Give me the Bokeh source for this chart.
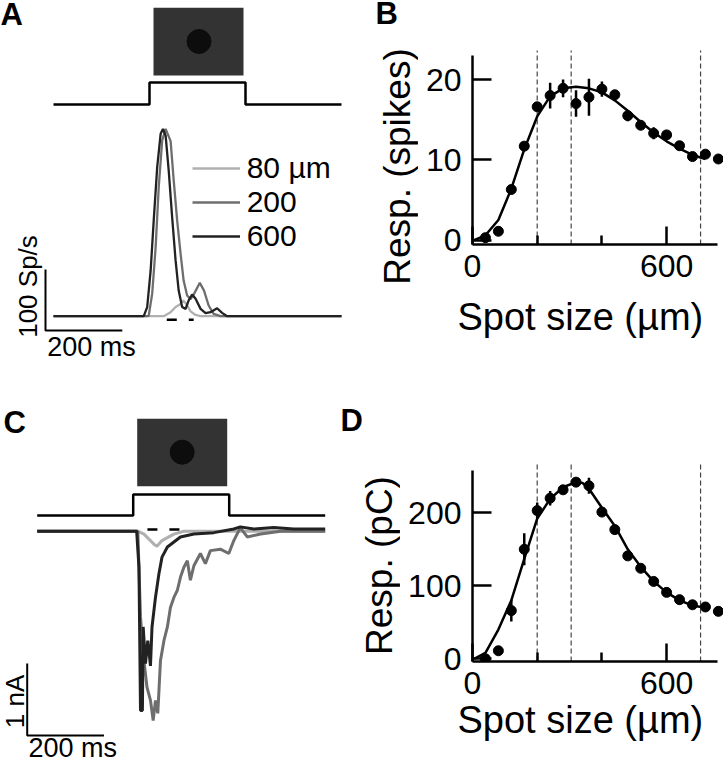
import math
from bokeh.plotting import figure
from bokeh.layouts import row, column
from bokeh.models import Label, FixedTicker, Legend, LegendItem, Title
from bokeh.embed import file_html
from bokeh.resources import INLINE

FONT = "Liberation Sans"

# ---------------- data ----------------
# stimulus timing (ms)
stim_t = [0, 250, 250, 500, 500, 750]
stim_on = [0, 0, 1, 1, 0, 0]

# Panel A: firing rate (Sp/s) vs time (ms)
a_light_t = [0, 287, 305, 318, 329, 338, 346, 357, 370, 383, 750]
a_light_r = [0, 0, 6.6, 15, 19, 25.7, 20, 8, 2, 0, 0]
a_med_t = [0, 244, 248, 257, 266, 274, 283, 292, 305, 313, 322, 331, 339, 348, 357, 366, 381, 392, 404, 417, 435, 750]
a_med_r = [0, 0, 1, 37, 113, 211, 288, 307, 287, 223, 157, 102, 58, 34, 28, 36.6, 54.7, 42, 17.5, 3.8, 0, 0]
a_dark_t = [0, 235, 244, 253, 261, 270, 279, 285, 292, 300, 309, 318, 326, 335, 344, 352, 361, 370, 383, 396, 409, 426, 439, 452, 750]
a_dark_r = [0, 0, 15, 75, 157, 244, 299, 307, 296, 239, 162, 91, 42, 15, 12, 26, 35.6, 28.5, 12, 5, 6.6, 13, 5.5, 0, 0]
a_window = [295, 365]
legend_labels = ["80 µm", "200", "600"]

# Panel C: current (nA) vs time (ms)
c_light_t = [0, 262, 278, 291, 304, 312, 325, 339, 356, 382, 750]
c_light_i = [0, 0, -0.04, -0.11, -0.18, -0.21, -0.13, -0.09, -0.04, 0, 0]
c_med_t = [0, 262, 269, 278, 286, 295, 302, 308, 314, 321, 330, 339, 347, 356, 365, 373, 382, 391, 399, 408, 425, 438, 451, 477, 499, 512, 529, 547, 582, 634, 750]
c_med_i = [0, 0, -1.19, -1.80, -2.17, -2.35, -2.63, -2.35, -2.53, -1.80, -1.52, -1.33, -1.06, -0.92, -0.82, -0.64, -0.50, -0.41, -0.68, -0.48, -0.31, -0.45, -0.27, -0.25, -0.31, -0.13, 0.05, -0.08, -0.04, 0, 0]
c_dark_t = [0, 259, 265, 269, 274, 276, 282, 288, 295, 299, 308, 317, 325, 339, 356, 373, 408, 460, 512, 529, 564, 616, 668, 750]
c_dark_i = [0, 0, -0.5, -2.49, -2.49, -1.33, -1.84, -1.52, -1.87, -1.33, -0.92, -0.59, -0.36, -0.22, -0.15, -0.08, -0.04, -0.02, 0.03, 0.06, 0.03, 0.05, 0.03, 0.03]
c_window = [287, 373]

# Panels B and D: spot size tuning
sizes = [40, 80, 120, 160, 200, 240, 280, 320, 360, 400, 440, 480, 520, 560, 600, 640, 680, 720, 760]
spikes = [0.3, 1.1, 6.3, 11.7, 16.6, 18.0, 18.9, 17.0, 17.8, 18.8, 18.1, 15.5, 14.3, 13.3, 13.1, 11.75, 10.4, 10.7, 10.1]
spikes_err = [0.2, 0.2, 0.4, 0.4, 0.3, 1.6, 1.1, 1.65, 2.3, 0.95, 0.4, 0.7, 0.4, 0.75, 0.4, 0.4, 0.4, 0.4, 0.3]
fitB_x = [5, 40, 80, 120, 160, 200, 240, 280, 320, 360, 400, 440, 480, 520, 560, 600, 640, 680, 720]
fitB_y = [0, 0.6, 2.5, 6.4, 11.3, 15.4, 17.9, 18.9, 19.1, 18.9, 18.4, 17.4, 16.1, 14.7, 13.4, 12.3, 11.4, 10.6, 10.1]
charge = [0, 11, 66, 150, 203, 220, 231.5, 242, 237, 201, 177, 141, 124, 106, 91, 81, 74, 71, 65]
charge_err = [3, 3, 15, 22, 11, 10, 4, 4, 11, 4, 3, 3, 3, 3, 3, 3, 3, 3, 3]
fitD_x = [5, 40, 80, 120, 160, 200, 240, 280, 320, 340, 360, 400, 440, 480, 520, 560, 600, 640, 680, 720]
fitD_y = [0, 8, 40, 80, 137, 192, 219, 235, 242, 241, 233, 207, 182, 150, 126, 106, 91, 80, 73, 70]
marked_sizes = [200, 305, 705]

LIGHT, MED, DARK = "#b0b0b0", "#6e6e6e", "#222222"


def blank_fig(w, h, xr, yr):
    p = figure(width=w, height=h, x_range=xr, y_range=yr, output_backend="svg",
               toolbar_location=None, x_axis_location=None, y_axis_location=None,
               min_border=0, frame_align=False)
    p.grid.visible = False
    p.outline_line_color = None
    return p


def lab(p, x, y, text, size, **kw):
    p.add_layout(Label(x=x, y=y, text=text, text_font=FONT, text_font_size=size,
                       text_color="black", **kw))


# ---------------- Panel A (also hosts B's letter and y title) ----------------
A_W, A_H = 418, 375
def ax(x): return (x - 53) / 0.384
def ay(y): return (315.7 - y) / 0.61

pa = blank_fig(A_W, A_H, (ax(0), ax(A_W)), (ay(A_H), ay(0)))
base, hgt = ay(104), ay(82) - ay(104)
pa.line(stim_t, [base + s * hgt for s in stim_on], line_width=2.5, color="black")
pa.quad(left=[ax(153)], right=[ax(243)], top=[ay(7.3)], bottom=[ay(75)],
        fill_color="#333333", line_color=None)
pa.scatter([ax(198.5)], [ay(41)], size=24, color="#0d0d0d")
rl = pa.line(a_light_t, a_light_r, line_width=2.3, color=LIGHT)
rm = pa.line(a_med_t, a_med_r, line_width=2.3, color=MED)
rd = pa.line(a_dark_t, a_dark_r, line_width=2.3, color=DARK)
pa.line(a_window, [ay(319.3)] * 2, line_width=2.5, color="black", line_dash="10 12")
sb_t, sb_r = ax(45), ay(330)
pa.line([sb_t, sb_t, sb_t + 200], [sb_r + 100, sb_r, sb_r], line_width=2, color="black")
leg = Legend(items=[LegendItem(label=legend_labels[0], renderers=[rl]),
                    LegendItem(label=legend_labels[1], renderers=[rm]),
                    LegendItem(label=legend_labels[2], renderers=[rd])],
             location=(191.7, A_H - 253.3), glyph_width=48, glyph_height=34, label_height=34,
             label_width=20, label_standoff=7, spacing=0, padding=0, margin=0,
             border_line_color=None, background_fill_alpha=0,
             label_text_font=FONT, label_text_font_size="30px", label_text_color="black")
pa.add_layout(leg)
lab(pa, ax(0), ay(31), "A", "31px", text_font_style="bold")
lab(pa, ax(27.5), ay(286), "100 Sp/s", "26px", angle=math.pi / 2,
    text_align="center", text_baseline="middle")
lab(pa, ax(46.7), ay(361), "200 ms", "27px")
lab(pa, ax(375), ay(30), "B", "31px", text_font_style="bold")
lab(pa, ax(396.5), ay(166), "Resp. (spikes)", "37px", angle=math.pi / 2,
    text_align="center", text_baseline="middle")

# ---------------- Panel C (also hosts D's letter and y title) ----------------
C_W, C_H = 400, 389
def cx(x): return (x - 36.7) / 0.384
def cy(y): return (530.7 - y) / 72.0

pc = blank_fig(C_W, C_H, (cx(0), cx(C_W)), (cy(375 + C_H), cy(375)))
base, hgt = cy(515), cy(494) - cy(515)
pc.line(stim_t, [base + s * hgt for s in stim_on], line_width=2.5, color="black")
pc.quad(left=[cx(136.7)], right=[cx(226.7)], top=[cy(418.3)], bottom=[cy(485.7)],
        fill_color="#333333", line_color=None)
pc.scatter([cx(181.7)], [cy(451.7)], size=24, color="#0d0d0d")
pc.line(c_light_t, c_light_i, line_width=3, color=LIGHT)
pc.line(c_med_t, c_med_i, line_width=3, color=MED)
pc.line(c_dark_t, c_dark_i, line_width=3, color=DARK)
pc.line(c_window, [cy(529)] * 2, line_width=2.5, color="black", line_dash="10 12")
sb_t, sb_i = cx(26.7), cy(735)
pc.line([sb_t, sb_t, sb_t + 200], [sb_i + 1, sb_i, sb_i], line_width=2, color="black")
lab(pc, cx(3), cy(439), "C", "31px", text_font_style="bold")
lab(pc, cx(14), cy(701), "1 nA", "26px", angle=math.pi / 2,
    text_align="center", text_baseline="middle")
lab(pc, cx(28), cy(762), "200 ms", "27px")
lab(pc, cx(340), cy(437), "D", "31px", text_font_style="bold")
lab(pc, cx(378.5), cy(565), "Resp. (pC)", "37px", angle=math.pi / 2,
    text_align="center", text_baseline="middle")


# ---------------- Panels B, D ----------------
PX_UM = 0.3235
X_LEFT = 472
X_END = (723 - X_LEFT) / PX_UM


def style_axes(p, yticks, ybounds):
    p.grid.visible = False
    p.outline_line_color = None
    xa, ya = p.xaxis[0], p.yaxis[0]
    xa.ticker = FixedTicker(ticks=[0, 600], minor_ticks=[200, 400])
    ya.ticker = FixedTicker(ticks=yticks)
    ya.bounds = ybounds
    xa.bounds = (0, 757)
    for a in (xa, ya):
        a.axis_line_width = 2.5
        a.major_tick_line_width = 2.5
        a.minor_tick_line_width = 2.5
        a.major_tick_out = 0
        a.minor_tick_out = 0
        a.major_label_text_font = FONT
        a.major_label_text_font_size = "32px"
        a.major_label_text_color = "black"
    xa.major_tick_in = 18
    xa.minor_tick_in = 9
    xa.major_label_standoff = 10
    ya.major_tick_in = 19
    ya.minor_tick_in = 0
    ya.major_label_standoff = 11


def tuning(p, vals, errs, fx, fy, ybase, ytop_dash):
    p.segment(x0=marked_sizes, y0=[ybase] * 3, x1=marked_sizes, y1=[ytop_dash] * 3,
              line_width=1.2, color="#444444", line_dash="5 3")
    p.line(fx, fy, line_width=2.5, color="black")
    p.segment(x0=sizes, y0=[v - e for v, e in zip(vals, errs)], x1=sizes,
              y1=[v + e for v, e in zip(vals, errs)], line_width=2.5, color="black")
    p.scatter(sizes, vals, size=10, color="black")


def x_title(p, standoff):
    p.add_layout(Title(text="Spot size (µm)", align="left", offset=457 - X_LEFT,
                       standoff=standoff, text_font=FONT, text_font_size="38px",
                       text_font_style="normal", text_color="black"), "below")


B_X0, B_W, B_H = 418, 305, 375
def by(y): return (239.6 - y) / 8.03
pb = figure(width=B_W, height=B_H, x_range=(0, X_END), y_range=(by(244), by(0)),
            output_backend="svg", toolbar_location=None, frame_align=False,
            min_border_left=X_LEFT - B_X0, min_border_right=0, min_border_top=0,
            min_border_bottom=B_H - 244)
style_axes(pb, [0, 10, 20], (by(244), 23))
tuning(pb, spikes, spikes_err, fitB_x, fitB_y, by(244), by(50))
x_title(pb, 29)

D_X0, D_W, D_Y0, D_H = 400, 323, 375, 376
def dy(y): return (658.3 - y) / 0.73
pd = figure(width=D_W, height=D_H, x_range=(0, X_END), y_range=(dy(661), dy(D_Y0)),
            output_backend="svg", toolbar_location=None, frame_align=False,
            min_border_left=X_LEFT - D_X0, min_border_right=0, min_border_top=0,
            min_border_bottom=D_Y0 + D_H - 661)
style_axes(pd, [0, 100, 200], (dy(661), 258))
tuning(pd, charge, charge_err, fitD_x, fitD_y, dy(661), dy(463))
x_title(pd, 0)

layout = column(row(pa, pb), row(pc, pd))
open("out.html", "w").write(file_html(layout, INLINE))
